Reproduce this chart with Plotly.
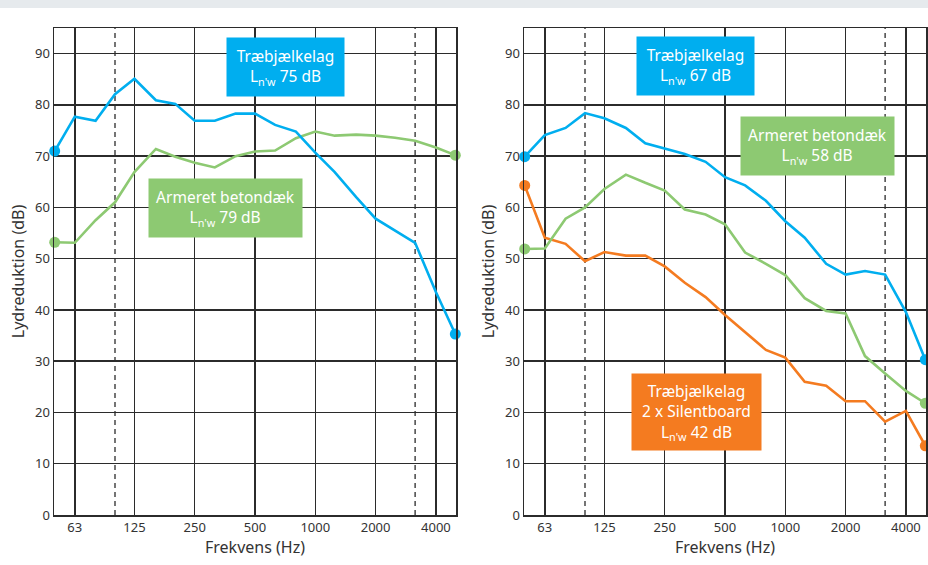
import plotly.graph_objects as go
import math

# Third-octave band centre frequencies (Hz)
freqs = [50, 63, 80, 100, 125, 160, 200, 250, 315, 400, 500, 630, 800,
         1000, 1250, 1600, 2000, 2500, 3150, 4000, 5000]
tick_vals = [63, 125, 250, 500, 1000, 2000, 4000]
tick_text = ["63", "125", "250", "500", "1000", "2000", "4000"]
dashed_freqs = [100, 3150]
y_ticks = [0, 10, 20, 30, 40, 50, 60, 70, 80, 90]

# Left panel
left_blue = [71.0, 77.7, 76.9, 82.1, 85.1, 80.9, 80.2, 76.9, 76.9, 78.3, 78.3,
             76.1, 74.8, 70.7, 66.9, 62.0, 57.8, 55.5, 53.1, 43.5, 35.3]
left_green = [53.2, 53.1, 57.5, 61.0, 66.9, 71.4, 69.9, 68.7, 67.8, 70.0, 70.9,
              71.1, 73.5, 74.8, 74.0, 74.2, 74.0, 73.6, 73.0, 71.7, 70.2]

# Right panel
right_blue = [69.9, 74.1, 75.5, 78.4, 77.4, 75.5, 72.5, 71.4, 70.4, 68.9, 65.9,
              64.3, 61.3, 57.3, 54.1, 49.0, 46.9, 47.6, 46.9, 39.6, 30.3]
right_green = [51.9, 52.0, 57.8, 60.0, 63.6, 66.4, 64.8, 63.3, 59.6, 58.6, 56.7,
               51.2, 49.0, 46.8, 42.3, 39.8, 39.3, 31.0, 27.6, 24.2, 21.8]
right_orange = [64.3, 54.1, 52.9, 49.5, 51.3, 50.6, 50.6, 48.5, 45.3, 42.5, 39.0,
                35.6, 32.2, 30.7, 26.0, 25.2, 22.2, 22.2, 18.2, 20.3, 13.5]

BLUE = "#00aeef"
GREEN = "#8dc972"
ORANGE = "#f47b20"
GRID = "#2b2b2b"
FONT = "Noto Sans"

W, H = 928, 565
ML, MR, MT, MB = 54, 2, 28, 50
PW = W - ML - MR
PH = H - MT - MB

def px_x(p):
    return (p - ML) / PW

def px_y(p):
    return 1 - (p - MT) / PH

fig = go.Figure()

def end_sizes(n):
    return [11] + [0] * (n - 2) + [11]

def add_series(vals, color, xa, ya):
    fig.add_trace(go.Scatter(
        x=freqs, y=vals, mode="lines+markers",
        line=dict(color=color, width=2.6),
        marker=dict(color=color, size=end_sizes(len(vals)), opacity=1,
                    line=dict(width=0)),
        xaxis=xa, yaxis=ya, cliponaxis=False, showlegend=False,
        hoverinfo="skip"))

add_series(left_green, GREEN, "x", "y")
add_series(left_blue, BLUE, "x", "y")
add_series(right_orange, ORANGE, "x2", "y2")
add_series(right_green, GREEN, "x2", "y2")
add_series(right_blue, BLUE, "x2", "y2")

xrange_ = [math.log10(49.6), math.log10(5040)]

axis_x = dict(type="log", range=xrange_, tickvals=tick_vals, ticktext=tick_text,
              showgrid=True, gridcolor=GRID, gridwidth=1.5, zeroline=False,
              showline=True, linecolor=GRID, linewidth=1.5, mirror=True,
              ticks="", tickfont=dict(family=FONT, size=13, color="#333333"),
              title=dict(text="Frekvens (Hz)", standoff=4,
                         font=dict(family=FONT, size=16, color="#333333")),
              fixedrange=True)
axis_y = dict(range=[0, 95], tickvals=y_ticks,
              showgrid=True, gridcolor=GRID, gridwidth=1.5, zeroline=False,
              showline=True, linecolor=GRID, linewidth=1.5, mirror=True,
              ticks="", tickfont=dict(family=FONT, size=13, color="#333333"),
              title=dict(text="Lydreduktion (dB)", standoff=6,
                         font=dict(family=FONT, size=16, color="#333333")),
              fixedrange=True)

d1 = [0, px_x(456)]
d2 = [px_x(524), 1]

fig.update_layout(
    width=W, height=H,
    margin=dict(l=ML, r=MR, t=MT, b=MB, autoexpand=False),
    paper_bgcolor="white", plot_bgcolor="white",
    xaxis=dict(axis_x, domain=d1, anchor="y"),
    yaxis=dict(axis_y, domain=[0, 1], anchor="x"),
    xaxis2=dict(axis_x, domain=d2, anchor="y2"),
    yaxis2=dict(axis_y, domain=[0, 1], anchor="x2"),
)

shapes = []
# top grey band
shapes.append(dict(type="rect", xref="paper", yref="paper",
                   x0=-ML / PW, x1=1 + MR / PW, y0=px_y(8), y1=px_y(0),
                   fillcolor="#e6eaed", line=dict(width=0), layer="below"))
for xa, ya in (("x", "y"), ("x2", "y2")):
    for f in dashed_freqs:
        shapes.append(dict(type="line", xref=xa, yref=ya + " domain",
                           x0=f, x1=f, y0=0, y1=1,
                           line=dict(color=GRID, width=1.3, dash="5px,4px"),
                           layer="below"))
fig.update_layout(shapes=shapes)

def box(text, color, cx, cy, w, h):
    return dict(text=text, xref="paper", yref="paper",
                x=px_x(cx), y=px_y(cy), xanchor="center", yanchor="middle",
                showarrow=False, bgcolor=color, width=w, height=h,
                borderpad=0, align="center",
                font=dict(family=FONT, size=15.5, color="white"))

sub = "L<sub>n'w</sub> "
annotations = [
    box("Træbjælkelag<br>" + sub + "75 dB", BLUE, 285.5, 67, 117, 58),
    box("Armeret betondæk<br>" + sub + "79 dB", GREEN, 225.5, 208, 153, 58),
    box("Træbjælkelag<br>" + sub + "67 dB", BLUE, 695.5, 66, 117, 58),
    box("Armeret betondæk<br>" + sub + "58 dB", GREEN, 817.5, 146, 153, 58),
    box("Træbjælkelag<br>2 x Silentboard<br>" + sub + "42 dB", ORANGE,
        696.5, 412, 129, 76),
]
fig.update_layout(annotations=annotations)

fig.write_html(
    "out.html",
    config={"displayModeBar": False, "staticPlot": True},
    post_script="document.body.style.margin='0';document.body.style.overflow='hidden';",
)
